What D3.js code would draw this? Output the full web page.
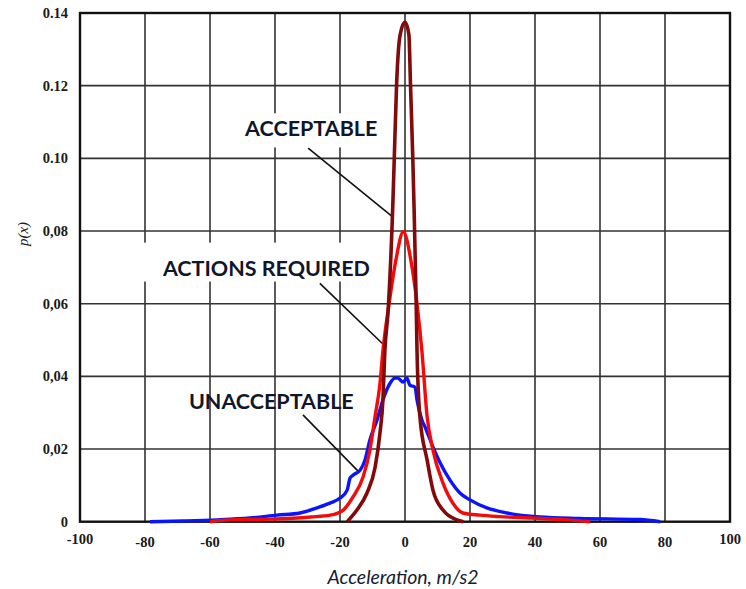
<!DOCTYPE html>
<html>
<head>
<meta charset="utf-8">
<script src="https://cdn.jsdelivr.net/npm/d3@7/dist/d3.min.js"></script>
<style>
  body { margin: 0; background: #fff; }
  svg { display: block; }
</style>
</head>
<body>
<div id="chart"></div>
<script>
// x ticks and y ticks (labels kept as printed, dots and commas mixed)
var xTicks = [-100, -80, -60, -40, -20, 0, 20, 40, 60, 80, 100];
var xTickLabels = ["-100", "-80", "-60", "-40", "-20", "0", "20", "40", "60", "80", "100"];
var yTicks = [0, 0.02, 0.04, 0.06, 0.08, 0.10, 0.12, 0.14];
var yTickLabels = ["0", "0,02", "0,04", "0,06", "0,08", "0.10", "0.12", "0.14"];

// ACCEPTABLE (dark red)
var accX = [-17.8, -14.8, -11.7, -9.2, -7.7, -6.8, -6.2, -5.2, -3.7, -3.3, -2.6, -1.5, 0, 1.2, 1.7, 2.4, 2.8, 3.4, 3.7, 4.6, 6.8, 8.6, 11.7, 16, 18];
var accP = [0, 0.0032, 0.0079, 0.015, 0.0244, 0.0335, 0.047, 0.058, 0.0885, 0.100, 0.120, 0.134, 0.1375, 0.134, 0.120, 0.100, 0.086, 0.062, 0.047, 0.0288, 0.017, 0.0087, 0.0032, 0.0005, 0];

// ACTIONS REQUIRED (red)
var reqX = [-60, -54, -41.5, -29, -23, -19, -16, -12.9, -10.8, -9.2, -7.7, -6.8, -4.9, -2.8, -0.5, 1.8, 3.7, 5.2, 6.8, 8.6, 11.7, 14.8, 17.8, 23, 29, 39, 50, 57];
var reqP = [0, 0.0005, 0.0007, 0.0013, 0.0018, 0.0032, 0.0068, 0.0123, 0.0197, 0.029, 0.038, 0.047, 0.060, 0.072, 0.0798, 0.072, 0.060, 0.047, 0.029, 0.0197, 0.0106, 0.005, 0.0024, 0.0018, 0.0014, 0.001, 0.0005, 0];

// UNACCEPTABLE (blue)
var unaX = [-78.5, -68.3, -57.8, -47.7, -39.4, -32.3, -27.1, -23.1, -20, -17.8, -16.9, -16, -13.8, -12.3, -10.8, -8.6, -6.8, -4.6, -3.1, -2.2, -0.6, 0.6, 1.5, 3.1, 3.7, 5.2, 6.2, 8.6, 10.8, 13.8, 16.9, 20, 25.2, 31.4, 41.5, 53.8, 72.3, 78.5];
var unaP = [0, 0.0002, 0.0005, 0.001, 0.0018, 0.0024, 0.0038, 0.0051, 0.0065, 0.0087, 0.012, 0.0128, 0.0142, 0.017, 0.0225, 0.028, 0.0335, 0.0381, 0.0395, 0.0395, 0.0384, 0.0395, 0.0376, 0.037, 0.0335, 0.028, 0.026, 0.0206, 0.0162, 0.0115, 0.0079, 0.006, 0.0038, 0.0024, 0.0013, 0.0009, 0.0006, 0];

var seriesNames = ["ACCEPTABLE", "ACTIONS REQUIRED", "UNACCEPTABLE"];

var width = 746, height = 589;
var margin = { top: 13, right: 16, bottom: 67.3, left: 80 };

var svg = d3.select("#chart").append("svg")
    .attr("width", width)
    .attr("height", height);

var x = d3.scaleLinear().domain([-100, 100]).range([margin.left, width - margin.right]);
var y = d3.scaleLinear().domain([0, 0.14]).range([height - margin.bottom, margin.top]);

// grid
var grid = svg.append("g").attr("class", "grid");
grid.selectAll(".vline")
    .data(xTicks.slice(1, -1))
    .enter().append("line")
    .attr("x1", function(d) { return x(d); })
    .attr("x2", function(d) { return x(d); })
    .attr("y1", y(0))
    .attr("y2", y(0.14))
    .style("stroke", "#333")
    .style("stroke-width", 1.6);

grid.selectAll(".hline")
    .data(yTicks.slice(1, -1))
    .enter().append("line")
    .attr("x1", x(-100))
    .attr("x2", x(100))
    .attr("y1", function(d) { return y(d); })
    .attr("y2", function(d) { return y(d); })
    .style("stroke", "#333")
    .style("stroke-width", 1.6);

// frame
svg.append("rect")
    .attr("x", x(-100))
    .attr("y", y(0.14))
    .attr("width", x(100) - x(-100))
    .attr("height", y(0) - y(0.14))
    .style("fill", "none")
    .style("stroke", "#111")
    .style("stroke-width", 2.4);

// tick labels
svg.append("g").selectAll("text")
    .data(yTicks)
    .enter().append("text")
    .attr("x", margin.left - 12)
    .attr("y", function(d) { return y(d) + 5; })
    .attr("text-anchor", "end")
    .style("font-family", "'Liberation Serif', serif")
    .style("font-weight", "bold")
    .style("font-size", "14.5px")
    .style("fill", "#1a1a1a")
    .text(function(d, i) { return yTickLabels[i]; });

svg.append("g").selectAll("text")
    .data(xTicks)
    .enter().append("text")
    .attr("x", function(d) { return x(d); })
    .attr("y", function(d) { return Math.abs(d) === 100 ? 544 : 547; })
    .attr("text-anchor", "middle")
    .style("font-family", "'Liberation Serif', serif")
    .style("font-weight", "bold")
    .style("font-size", "14.5px")
    .style("fill", "#1a1a1a")
    .text(function(d, i) { return xTickLabels[i]; });

// axis titles
svg.append("text")
    .attr("x", (x(-100) + x(100)) / 2 - 2)
    .attr("y", 584)
    .attr("text-anchor", "middle")
    .style("font-family", "Lato, sans-serif")
    .style("font-style", "italic")
    .style("font-size", "19.5px")
    .style("fill", "#141c36")
    .text("Acceleration, m/s2");

svg.append("text")
    .attr("transform", "translate(28,234)rotate(-90)")
    .attr("text-anchor", "middle")
    .style("font-family", "'Liberation Serif', serif")
    .style("font-style", "italic")
    .style("font-size", "15px")
    .style("fill", "#1a1a1a")
    .text("p(x)");

// annotations: label, text anchor and leader line (data units)
var labelPos = [
    { tx: -49.2, ty: 0.1061, x1: -29.8, y1: 0.1028, x2: -3.7, y2: 0.0838, box: [-51.5, 0.1124, -7.5, 0.0094] },
    { tx: -74.5, ty: 0.0676, x1: -26.2, y1: 0.0656, x2: -6.8, y2: 0.0489, box: [-80.5, 0.0768, -7.5, 0.0107] },
    { tx: -66.5, ty: 0.0310, x1: -31.4, y1: 0.0294, x2: -14.2, y2: 0.0137, box: null }
];

var ann = svg.append("g").attr("class", "annotations");
labelPos.forEach(function(p, i) {
    if (p.box) {
        ann.append("rect")
            .attr("x", x(p.box[0]))
            .attr("y", y(p.box[1]))
            .attr("width", x(p.box[2]) - x(p.box[0]))
            .attr("height", y(0) - y(p.box[3]))
            .style("fill", "#fff");
    }
    ann.append("line")
        .attr("x1", x(p.x1)).attr("y1", y(p.y1))
        .attr("x2", x(p.x2)).attr("y2", y(p.y2))
        .style("stroke", "#111")
        .style("stroke-width", 1.6);
    ann.append("text")
        .attr("x", x(p.tx))
        .attr("y", y(p.ty))
        .style("font-family", "Lato, sans-serif")
        .style("font-weight", "bold")
        .style("font-size", "21.5px")
        .style("fill", "#10162b")
        .text(seriesNames[i]);
});

// curves
var line = d3.line()
    .curve(d3.curveMonotoneX)
    .x(function(d) { return x(d[0]); })
    .y(function(d) { return y(d[1]); });

var curves = [
    { xs: unaX, ps: unaP, color: "#0a14ff", w: 3.4 },
    { xs: reqX, ps: reqP, color: "#f50a0a", w: 3.4 },
    { xs: accX, ps: accP, color: "#820a0a", w: 3.6 }
];

svg.append("g").selectAll("path")
    .data(curves)
    .enter().append("path")
    .attr("d", function(c) { return line(d3.zip(c.xs, c.ps)); })
    .style("fill", "none")
    .style("stroke", function(c) { return c.color; })
    .style("stroke-width", function(c) { return c.w; })
    .style("stroke-linejoin", "round");
</script>
</body>
</html>
